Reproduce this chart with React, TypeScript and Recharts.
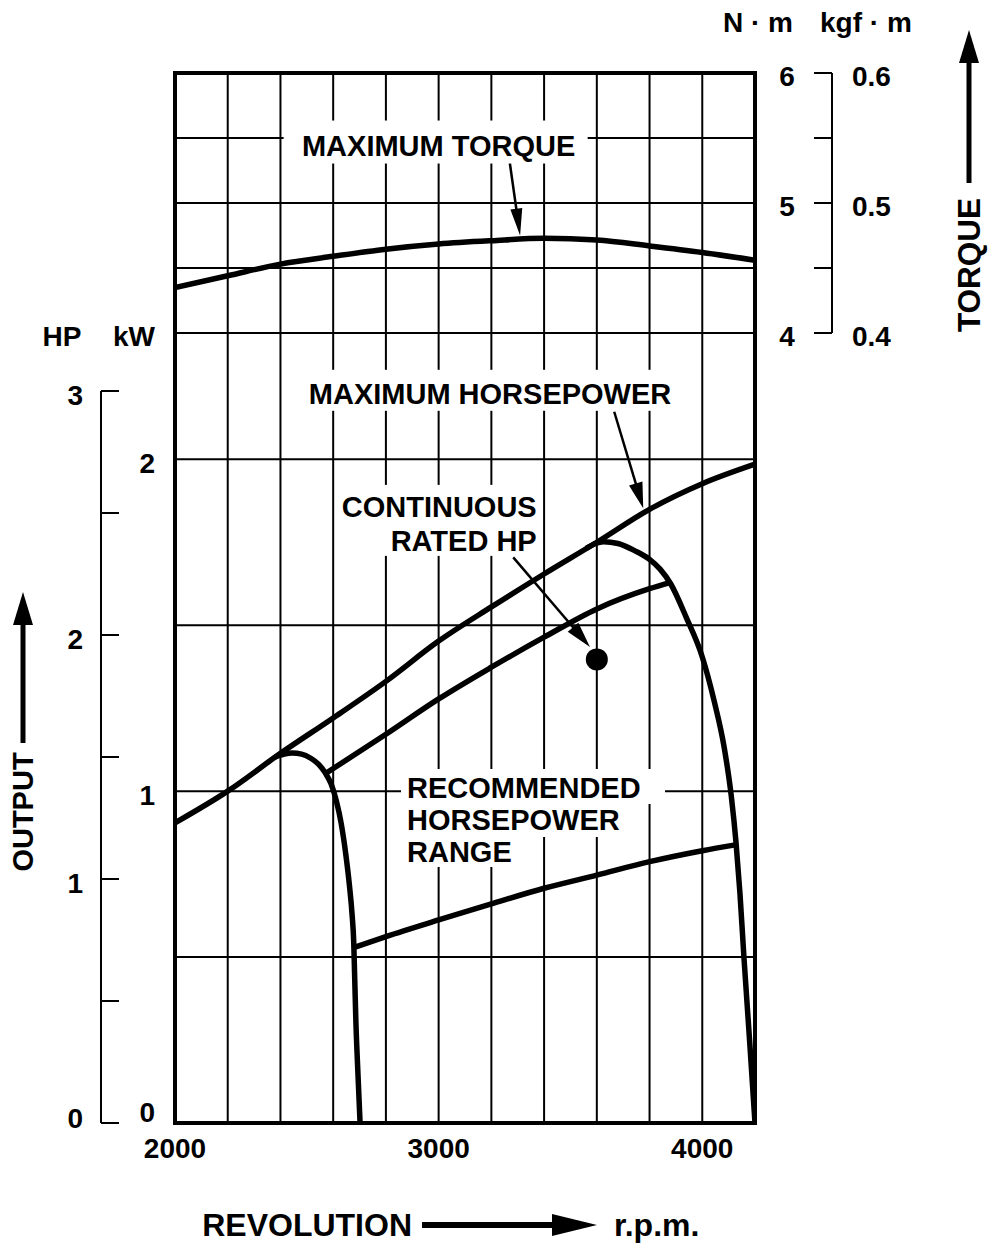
import React from "react";
import {
  LineChart,
  Line,
  XAxis,
  YAxis,
  CartesianGrid,
  ReferenceLine,
  ReferenceDot,
  ReferenceArea,
} from "recharts";

const FONT = '"Liberation Sans", Arial, Helvetica, sans-serif';

// axes
const rpmTicks = [2000, 2200, 2400, 2600, 2800, 3000, 3200, 3400, 3600, 3800, 4000, 4200];
const rpmLabels = [2000, 3000, 4000];
const hpTicks = [0, 0.5, 1, 1.5, 2, 2.5, 3];
const kwTicks = [0, 0.5, 1, 1.5, 2];
const nmTicks = [4, 4.5, 5, 5.5, 6];
const kgfLabels = ["0.4", "", "0.5", "", "0.6"];

// maximum torque (N·m)
const torqueRpm = [2000, 2200, 2400, 2600, 2800, 3000, 3200, 3400, 3600, 3800, 4000, 4200];
const torqueNm = [4.35, 4.44, 4.53, 4.59, 4.645, 4.685, 4.71, 4.728, 4.715, 4.67, 4.62, 4.56];

// maximum horsepower (HP)
const maxHpRpm = [2000, 2200, 2400, 2600, 2800, 3000, 3200, 3400, 3600, 3800, 4000, 4200];
const maxHp = [1.23, 1.36, 1.515, 1.66, 1.81, 1.975, 2.115, 2.25, 2.38, 2.515, 2.62, 2.7];

// recommended range, low-speed limit
const lowLimitRpm = [2380, 2415, 2445, 2480, 2515, 2545, 2570, 2592, 2612, 2630, 2648, 2662, 2672, 2678, 2681, 2686, 2694, 2702];
const lowLimitHp = [1.5, 1.512, 1.516, 1.512, 1.495, 1.47, 1.435, 1.39, 1.32, 1.23, 1.1, 0.97, 0.85, 0.74, 0.62, 0.42, 0.2, 0];

// recommended range, high-speed limit
const highLimitRpm = [3560, 3595, 3625, 3680, 3745, 3800, 3840, 3880, 3940, 4000, 4045, 4083, 4110, 4128, 4143, 4158, 4180, 4200];
const highLimitHp = [2.355, 2.375, 2.382, 2.375, 2.345, 2.31, 2.27, 2.21, 2.07, 1.91, 1.73, 1.54, 1.34, 1.15, 0.94, 0.68, 0.33, 0];

// continuous rated HP
const contRpm = [2575, 2800, 3000, 3200, 3400, 3600, 3800, 3878];
const contHp = [1.435, 1.593, 1.738, 1.868, 1.991, 2.107, 2.19, 2.215];

// recommended range, lower edge
const floorRpm = [2680, 2800, 3000, 3200, 3400, 3600, 3800, 4000, 4125];
const floorHp = [0.72, 0.764, 0.832, 0.898, 0.962, 1.016, 1.071, 1.116, 1.14];

// continuous rated point
const ratedRpm = 3600;
const ratedHp = 1.9;

const toPoints = (xs: number[], ys: number[]) => xs.map((rpm, i) => ({ rpm, v: ys[i] }));

const W = 988;
const H = 1245;
const PLOT_H = 1050;
const HP_PX = 244; // px per HP
const HP_MAX = PLOT_H / HP_PX;
const PS_PER_KW = 1.36;
const KW_MAX = HP_MAX / PS_PER_KW;
const NM_PX = 130; // px per N·m
const NM_MAX = 6;
const NM_MIN = NM_MAX - PLOT_H / NM_PX;
const CURVE_W = 5.5;

const txt = { fontFamily: FONT, fontWeight: 700, fill: "#000" };

const Arrow = ({ x1, y1, x2, y2, head, headW, w }: any) => {
  const dx = x2 - x1;
  const dy = y2 - y1;
  const len = Math.hypot(dx, dy) || 1;
  const ux = dx / len;
  const uy = dy / len;
  const bx = x2 - ux * head;
  const by = y2 - uy * head;
  const px = (-uy * headW) / 2;
  const py = (ux * headW) / 2;
  return (
    <g>
      <line x1={x1} y1={y1} x2={bx + ux} y2={by + uy} stroke="#000" strokeWidth={w} />
      <polygon points={`${x2},${y2} ${bx + px},${by + py} ${bx - px},${by - py}`} fill="#000" />
    </g>
  );
};

const HpTick = (p: any) => {
  const { x, y, payload } = p;
  const v = payload.value;
  const top = hpTicks[hpTicks.length - 1];
  return (
    <g>
      <line x1={x} y1={y} x2={x + 18} y2={y} stroke="#000" strokeWidth={2} />
      {v < top && <line x1={x} y1={y} x2={x} y2={y - 0.5 * HP_PX} stroke="#000" strokeWidth={2} />}
      {Number.isInteger(v) && (
        <text x={x - 18} y={y + (v === 0 ? -5 : 4) + 10} textAnchor="end" fontSize={28} {...txt}>
          {v}
        </text>
      )}
    </g>
  );
};

const KwTick = (p: any) => {
  const { x, y, payload } = p;
  const v = payload.value;
  if (!Number.isInteger(v)) return <g />;
  return (
    <text x={x - 20} y={y + (v === 0 ? -11 : 4) + 10} textAnchor="end" fontSize={28} {...txt}>
      {v}
    </text>
  );
};

const NmTick = (p: any) => {
  const { x, y, payload, index } = p;
  const v = payload.value;
  return (
    <g>
      <line x1={x + 59} y1={y} x2={x + 77} y2={y} stroke="#000" strokeWidth={2} />
      {v > nmTicks[0] && <line x1={x + 77} y1={y} x2={x + 77} y2={y + 0.5 * NM_PX} stroke="#000" strokeWidth={2} />}
      {Number.isInteger(v) && (
        <text x={x + 32} y={y + 13} textAnchor="middle" fontSize={28} {...txt}>
          {v}
        </text>
      )}
      {kgfLabels[index] && (
        <text x={x + 97} y={y + 13} textAnchor="start" fontSize={28} {...txt}>
          {kgfLabels[index]}
        </text>
      )}
    </g>
  );
};

type NoteLine = { text: string; dy: number; box: [number, number, number, number] };

const Note = ({ cx, cy, lines, anchor }: { cx: number; cy: number; lines: NoteLine[]; anchor: "start" | "middle" | "end" }) => (
  <g>
    {lines.map((l, i) => (
      <rect key={"r" + i} x={cx + l.box[0]} y={cy + l.box[1]} width={l.box[2]} height={l.box[3]} fill="#fff" />
    ))}
    {lines.map((l, i) => (
      <text key={"t" + i} x={cx} y={cy + l.dy + 10.4} textAnchor={anchor} fontSize={29} {...txt}>
        {l.text}
      </text>
    ))}
  </g>
);

const App: React.FC = () => {
  return (
    <div style={{ position: "absolute", left: 0, top: 0, width: W, height: H, background: "#fff", fontFamily: FONT }}>
      <LineChart width={W} height={H} margin={{ top: 73, right: 0, bottom: 0, left: 0 }}>
        <CartesianGrid yAxisId="kw" stroke="#000" strokeWidth={2} strokeDasharray="" />
        <XAxis
          dataKey="rpm"
          type="number"
          domain={[2000, 4200]}
          allowDataOverflow
          ticks={rpmTicks}
          interval={0}
          tickFormatter={(v: number) => (rpmLabels.includes(v) ? String(v) : "")}
          axisLine={false}
          tickLine={false}
          tickSize={0}
          tickMargin={15}
          height={122}
          tick={{ fontSize: 28, fontWeight: 700, fill: "#000", fontFamily: FONT }}
        />
        {/* kW labels sit next to the plot, the HP bracket further out */}
        <YAxis
          yAxisId="kw"
          orientation="left"
          width={74}
          type="number"
          domain={[0, KW_MAX]}
          allowDataOverflow
          ticks={kwTicks}
          interval={0}
          axisLine={false}
          tickLine={false}
          tickSize={0}
          tickMargin={0}
          tick={(p: any) => <KwTick {...p} />}
        />
        <YAxis
          yAxisId="power"
          orientation="left"
          width={101}
          type="number"
          domain={[0, HP_MAX]}
          allowDataOverflow
          ticks={hpTicks}
          interval={0}
          axisLine={false}
          tickLine={false}
          tickSize={0}
          tickMargin={0}
          tick={(p: any) => <HpTick {...p} />}
        />
        <YAxis
          yAxisId="nm"
          orientation="right"
          width={233}
          type="number"
          domain={[NM_MIN, NM_MAX]}
          allowDataOverflow
          ticks={nmTicks}
          interval={0}
          axisLine={false}
          tickLine={false}
          tickSize={0}
          tickMargin={0}
          tick={(p: any) => <NmTick {...p} />}
        />

        {nmTicks.map((t) => (
          <ReferenceLine key={t} yAxisId="nm" y={t} stroke="#000" strokeWidth={2} />
        ))}

        <ReferenceDot
          yAxisId="nm"
          x={3000}
          y={5.442}
          r={1}
          shape={(p: any) => (
            <Note cx={p.cx} cy={p.cy} anchor="middle" lines={[{ text: "MAXIMUM TORQUE", dy: 0, box: [-155, -25, 304, 43] }]} />
          )}
        />
        <ReferenceDot
          yAxisId="power"
          x={3195}
          y={2.9885}
          r={1}
          shape={(p: any) => (
            <Note cx={p.cx} cy={p.cy} anchor="middle" lines={[{ text: "MAXIMUM HORSEPOWER", dy: 0, box: [-196, -24, 392, 41] }]} />
          )}
        />
        <ReferenceDot
          yAxisId="power"
          x={3372}
          y={2.525}
          r={1}
          shape={(p: any) => (
            <Note
              cx={p.cx}
              cy={p.cy}
              anchor="end"
              lines={[
                { text: "CONTINUOUS", dy: 0, box: [-200, -22, 204, 36] },
                { text: "RATED HP", dy: 34, box: [-200, 13, 204, 36] },
              ]}
            />
          )}
        />
        <ReferenceDot
          yAxisId="power"
          x={2880}
          y={1.373}
          r={1}
          shape={(p: any) => (
            <Note
              cx={p.cx}
              cy={p.cy}
              anchor="start"
              lines={[
                { text: "RECOMMENDED", dy: 0, box: [-6, -19, 264, 35] },
                { text: "HORSEPOWER", dy: 32, box: [-6, 15, 229, 34] },
                { text: "RANGE", dy: 64, box: [-6, 48, 119, 31] },
              ]}
            />
          )}
        />

        <Line yAxisId="nm" data={toPoints(torqueRpm, torqueNm)} dataKey="v" type="monotone" stroke="#000" strokeWidth={CURVE_W} dot={false} isAnimationActive={false} />
        <Line yAxisId="power" data={toPoints(maxHpRpm, maxHp)} dataKey="v" type="monotone" stroke="#000" strokeWidth={CURVE_W} dot={false} isAnimationActive={false} />
        <Line yAxisId="power" data={toPoints(lowLimitRpm, lowLimitHp)} dataKey="v" type="monotone" stroke="#000" strokeWidth={CURVE_W} dot={false} isAnimationActive={false} />
        <Line yAxisId="power" data={toPoints(highLimitRpm, highLimitHp)} dataKey="v" type="monotone" stroke="#000" strokeWidth={CURVE_W} dot={false} isAnimationActive={false} />
        <Line yAxisId="power" data={toPoints(contRpm, contHp)} dataKey="v" type="monotone" stroke="#000" strokeWidth={CURVE_W} dot={false} isAnimationActive={false} />
        <Line yAxisId="power" data={toPoints(floorRpm, floorHp)} dataKey="v" type="monotone" stroke="#000" strokeWidth={CURVE_W} dot={false} isAnimationActive={false} />

        <ReferenceDot yAxisId="power" x={ratedRpm} y={ratedHp} r={11} fill="#000" stroke="none" />

        <ReferenceLine
          yAxisId="nm"
          segment={[{ x: 3270, y: 5.308 }, { x: 3309, y: 4.75 }]}
          shape={(p: any) => <Arrow x1={p.x1} y1={p.y1} x2={p.x2} y2={p.y2} head={27} headW={12} w={2.5} />}
        />
        <ReferenceLine
          yAxisId="power"
          segment={[{ x: 3666, y: 2.915 }, { x: 3776, y: 2.519 }]}
          shape={(p: any) => <Arrow x1={p.x1} y1={p.y1} x2={p.x2} y2={p.y2} head={26} headW={14} w={2.5} />}
        />
        <ReferenceLine
          yAxisId="power"
          segment={[{ x: 3283, y: 2.318 }, { x: 3574, y: 1.951 }]}
          shape={(p: any) => <Arrow x1={p.x1} y1={p.y1} x2={p.x2} y2={p.y2} head={26} headW={14} w={2.5} />}
        />

        <ReferenceArea yAxisId="power" x1={2000} x2={4200} y1={0} y2={HP_MAX} fill="none" fillOpacity={0} stroke="#000" strokeWidth={4} />
      </LineChart>

      <svg width={W} height={H} style={{ position: "absolute", left: 0, top: 0, pointerEvents: "none" }}>
        <text x={62} y={346} textAnchor="middle" fontSize={28} {...txt}>HP</text>
        <text x={134} y={346} textAnchor="middle" fontSize={28} {...txt}>kW</text>
        <text x={793} y={32} textAnchor="end" fontSize={28} {...txt}>N · m</text>
        <text x={820} y={32} textAnchor="start" fontSize={28} {...txt}>kgf · m</text>

        <Arrow x1={23} y1={743} x2={23} y2={592} head={33} headW={20} w={5} />
        <text transform="translate(23,812) rotate(-90)" dy="0.36em" textAnchor="middle" fontSize={29} {...txt}>OUTPUT</text>

        <Arrow x1={969} y1={183} x2={969} y2={30} head={33} headW={20} w={5} />
        <text transform="translate(969,265) rotate(-90)" dy="0.36em" textAnchor="middle" fontSize={31.5} {...txt}>TORQUE</text>

        <text x={412} y={1236} textAnchor="end" fontSize={32} {...txt}>REVOLUTION</text>
        <Arrow x1={422} y1={1225} x2={597} y2={1225} head={45} headW={22} w={6} />
        <text x={614} y={1236} textAnchor="start" fontSize={32} {...txt}>r.p.m.</text>
      </svg>
    </div>
  );
};

export default App;
